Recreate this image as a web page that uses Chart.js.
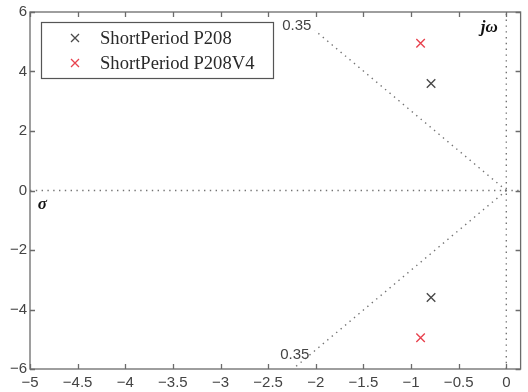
<!DOCTYPE html>
<html>
<head>
<meta charset="utf-8">
<script src="https://cdn.jsdelivr.net/npm/chart.js@4.4.1/dist/chart.umd.min.js"></script>
<style>
  html, body { margin: 0; padding: 0; background: #fff; }
  #poles { display: block; }
</style>
</head>
<body>
<canvas id="poles" width="528" height="392"></canvas>
<script>
// pole locations (real / imaginary parts)
const seriesNames = ["ShortPeriod P208", "ShortPeriod P208V4"];
const p208Re = [-0.79, -0.79];
const p208Im = [3.6, -3.6];
const p208v4Re = [-0.9, -0.9];
const p208v4Im = [4.95, -4.95];

// axis ticks
const xTicks = [-5, -4.5, -4, -3.5, -3, -2.5, -2, -1.5, -1, -0.5, 0];
const yTicks = [-6, -4, -2, 0, 2, 4, 6];

// constant damping ratio rays (zeta = 0.35)
const dampLabel = "0.35";
const dampUpper = [[0, 0], [-2.01, 5.38]];
const dampLower = [[0, 0], [-2.24, -6]];

const toPts = (re, im) => re.map((v, i) => ({ x: v, y: im[i] }));
const pairPts = arr => arr.map(p => ({ x: p[0], y: p[1] }));

const gridGrey = "#747474";
const frameGrey = "#6b6b6b";
const colP208 = "#4a4a4a";
const colV4 = "#e8424e";

function dotted(points) {
  return {
    type: "line",
    data: points,
    borderColor: gridGrey,
    borderWidth: 1.4,
    borderDash: [1.4, 4.4],
    pointRadius: 0,
    showLine: true,
    fill: false,
    order: 5
  };
}

// frame with inward ticks on all four sides, plus text labels and legend
const decorations = {
  id: "decorations",
  afterDraw(chart) {
    const { ctx, chartArea: a, scales } = chart;
    const xs = scales.x, ys = scales.y;
    ctx.save();
    ctx.strokeStyle = frameGrey;
    ctx.lineWidth = 1.3;
    ctx.strokeRect(a.left, a.top, a.right - a.left, a.bottom - a.top);
    ctx.beginPath();
    const tl = 5;
    xTicks.forEach(v => {
      const px = Math.round(xs.getPixelForValue(v)) + 0.5;
      ctx.moveTo(px, a.bottom); ctx.lineTo(px, a.bottom - tl);
      ctx.moveTo(px, a.top); ctx.lineTo(px, a.top + tl);
    });
    yTicks.forEach(v => {
      const py = Math.round(ys.getPixelForValue(v)) + 0.5;
      ctx.moveTo(a.left, py); ctx.lineTo(a.left + tl, py);
      ctx.moveTo(a.right, py); ctx.lineTo(a.right - tl, py);
    });
    ctx.stroke();

    // damping ratio labels
    ctx.fillStyle = "#444";
    ctx.font = "15px 'Liberation Sans', Arial, sans-serif";
    ctx.textAlign = "center";
    ctx.textBaseline = "middle";
    ctx.fillText(dampLabel, xs.getPixelForValue(-2.2), ys.getPixelForValue(5.54));
    ctx.fillText(dampLabel, xs.getPixelForValue(-2.22), ys.getPixelForValue(-5.54));

    // axis names
    ctx.fillStyle = "#111";
    ctx.font = "italic bold 17px 'Liberation Serif', 'Times New Roman', serif";
    ctx.fillText("\u03c3", xs.getPixelForValue(-4.87), ys.getPixelForValue(-0.49));
    ctx.fillText("j\u03c9", xs.getPixelForValue(-0.18), ys.getPixelForValue(5.48));

    // legend box
    const bx = a.left + 11, by = a.top + 10, bw = 232, bh = 56;
    ctx.fillStyle = "#fff";
    ctx.fillRect(bx, by, bw, bh);
    ctx.strokeStyle = "#555";
    ctx.lineWidth = 1.2;
    ctx.strokeRect(bx + 0.5, by + 0.5, bw, bh);
    const markers = [colP208, colV4];
    ctx.font = "18.6px 'Liberation Serif', 'Times New Roman', serif";
    ctx.textAlign = "left";
    seriesNames.forEach((name, i) => {
      const cy = by + 16 + i * 25;
      const cx = bx + 34;
      ctx.strokeStyle = markers[i];
      ctx.lineWidth = 1.3;
      ctx.beginPath();
      ctx.moveTo(cx - 4, cy - 4); ctx.lineTo(cx + 4, cy + 4);
      ctx.moveTo(cx + 4, cy - 4); ctx.lineTo(cx - 4, cy + 4);
      ctx.stroke();
      ctx.fillStyle = "#2a2a2a";
      ctx.fillText(name, bx + 59, cy + 1);
    });
    ctx.restore();
  }
};

const minusSign = v => String(v).replace("-", "\u2212");

new Chart(document.getElementById("poles"), {
  type: "scatter",
  data: {
    datasets: [
      dotted([{ x: -5, y: 0 }, { x: 0.15, y: 0 }]),
      dotted([{ x: 0, y: -6 }, { x: 0, y: 6 }]),
      dotted(pairPts(dampUpper)),
      dotted(pairPts(dampLower)),
      {
        label: seriesNames[0],
        data: toPts(p208Re, p208Im),
        pointStyle: "crossRot",
        pointRadius: 6,
        borderColor: colP208,
        borderWidth: 1.4,
        order: 1
      },
      {
        label: seriesNames[1],
        data: toPts(p208v4Re, p208v4Im),
        pointStyle: "crossRot",
        pointRadius: 6,
        borderColor: colV4,
        borderWidth: 1.4,
        order: 1
      }
    ]
  },
  options: {
    responsive: false,
    animation: false,
    devicePixelRatio: 1,
    layout: { padding: { top: 12, right: 4, left: 0, bottom: 0 } },
    plugins: {
      legend: { display: false },
      tooltip: { enabled: false }
    },
    scales: {
      x: {
        type: "linear",
        min: -5,
        max: 0.15,
        afterBuildTicks: s => { s.ticks = xTicks.map(v => ({ value: v })); },
        afterFit: s => { s.height = 23; },
        grid: { display: false, drawTicks: false },
        border: { display: false },
        ticks: {
          padding: 5,
          color: "#444",
          font: { family: "'Liberation Sans', Arial, sans-serif", size: 15 },
          callback: v => minusSign(v),
          maxRotation: 0,
          autoSkip: false
        }
      },
      y: {
        type: "linear",
        min: -6,
        max: 6,
        afterBuildTicks: s => { s.ticks = yTicks.map(v => ({ value: v })); },
        afterFit: s => { s.width = 30; },
        grid: { display: false, drawTicks: false },
        border: { display: false },
        ticks: {
          padding: 3,
          color: "#444",
          font: { family: "'Liberation Sans', Arial, sans-serif", size: 15 },
          callback: v => minusSign(v)
        }
      }
    }
  },
  plugins: [decorations]
});
</script>
</body>
</html>
